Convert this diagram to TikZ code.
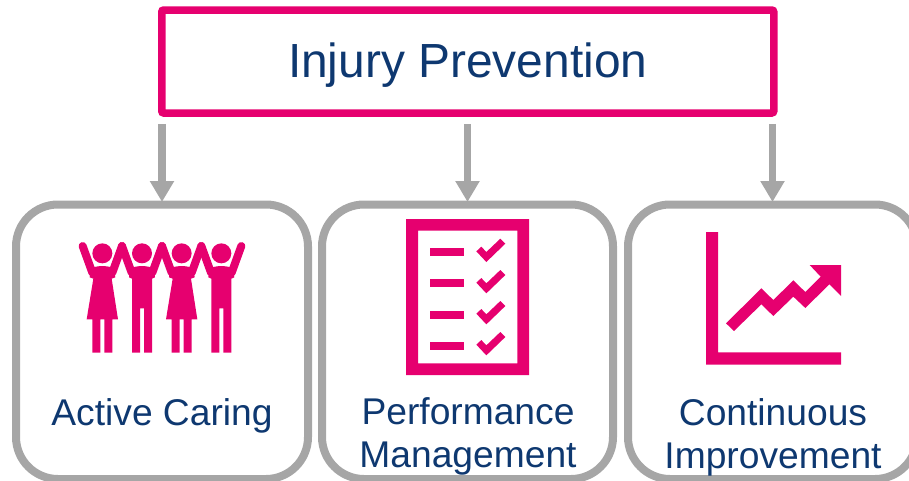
\documentclass[tikz,border=0pt]{standalone}
\usepackage{fontspec}
\setmainfont{Liberation Sans}
\usetikzlibrary{arrows.meta}
\definecolor{pinkc}{HTML}{E6006F}
\definecolor{grayc}{HTML}{A6A6A6}
\definecolor{navyc}{HTML}{0E3870}
\tikzset{
  x=1pt,y=-1pt,
  titlebox/.style={draw=pinkc,line width=7.5pt,rounded corners=2pt,minimum width=612pt,minimum height=103pt,
    text=navyc,font=\fontsize{47.9}{56}\selectfont},
  cardbox/.style={draw=grayc,line width=8pt,rounded corners=42pt,minimum height=274.5pt},
  cardtext/.style={text=navyc,font=\fontsize{37.2}{43}\selectfont,align=center},
  flow/.style={draw=grayc,line width=7.5pt,-{Triangle[width=23pt,length=21pt]}},
  limb/.style={draw=pinkc,line width=8pt,line cap=round},
  icon/.style={x=0.33333pt,y=-0.33333pt}
}
\newcommand{\woman}[1]{%
  \begin{scope}[xshift=#1*0.33333pt]
    \fill[pinkc] (127,100) circle (30);
    \draw[limb] (68,78) -- (97,158);
    \draw[limb] (186,78) -- (157,158);
    \fill[pinkc] (92,145) .. controls (110,136) and (144,136) .. (162,145) -- (166,172) -- (155,176) -- (174,298) -- (157,298) -- (157,398) -- (133,398) -- (133,298) -- (121,298) -- (121,398) -- (97,398) -- (97,298) -- (80,298) -- (100,176) -- (89,172) -- cycle;
  \end{scope}}
\newcommand{\man}[1]{%
  \begin{scope}[xshift=#1*0.33333pt]
    \fill[pinkc] (246,100) circle (30);
    \draw[limb] (186,78) -- (215,158);
    \draw[limb] (306,78) -- (277,158);
    \fill[pinkc] (211,145) .. controls (229,136) and (263,136) .. (281,145) -- (285,172) -- (276,176) -- (276,398) -- (252,398) -- (252,265) -- (240,265) -- (240,398) -- (216,398) -- (216,176) -- (207,172) -- cycle;
  \end{scope}}
\newcommand{\checkrow}[2]{%
  \fill[pinkc] (120,#1) rectangle (222,#1+24);
  \fill[pinkc] (259,#2+38) -- (289,#2+70) -- (346,#2+15) -- (331,#2) -- (289,#2+40) -- (274,#2+24) -- cycle;}
\begin{document}
\begin{tikzpicture}
\useasboundingbox (0,0) rectangle (909,480);
\clip (0,0) rectangle (909,480);
\node[titlebox] (top) at (467.75,61.5) {\raisebox{-15.5pt}[0pt][0pt]{Injury Prevention}};
\node[cardbox,minimum width=292pt] (c1) at (162,341.75) {};
\node[cardbox,minimum width=291pt] (c2) at (467.5,341.75) {};
\node[cardbox,minimum width=289pt] (c3) at (772.5,341.75) {};
\node[cardtext] (t1) at (162,416) {Active Caring};
\node[cardtext] (t2) at (468,436) {Performance\\Management};
\node[cardtext] (t3) at (773,437) {Continuous\\Improvement};
\draw[flow] ([yshift=-7pt]top.south -| c1.north) -- ([yshift=-1.5pt]c1.north);
\draw[flow] ([yshift=-7pt]top.south -| c2.north) -- ([yshift=-1.5pt]c2.north);
\draw[flow] ([yshift=-7pt]top.south -| c3.north) -- ([yshift=-1.5pt]c3.north);
% people
\begin{scope}[shift={(60,220)},icon]
  \woman{0}
  \man{0}
  \woman{238}
  \man{238}
\end{scope}
% checklist
\begin{scope}[shift={(390,210)},icon]
  \fill[pinkc,even odd rule] (48,27) rectangle (417,495) (84,62) rectangle (382,460);
  \checkrow{114}{86}
  \checkrow{207}{180}
  \checkrow{303}{273}
  \checkrow{396}{366}
\end{scope}
% chart
\begin{scope}[shift={(690,220)},icon]
  \fill[pinkc] (48,36) -- (84,36) -- (84,397) -- (453,397) -- (453,434) -- (48,434) -- cycle;
  \fill[pinkc] (108,310) -- (214,205) -- (250,240) -- (310,181) -- (346,216) -- (392,170) -- (359,135) -- (453,135) -- (453,228) -- (418,193) -- (346,264) -- (310,230) -- (250,288) -- (214,253) -- (132,333) -- cycle;
\end{scope}
\end{tikzpicture}
\end{document}
